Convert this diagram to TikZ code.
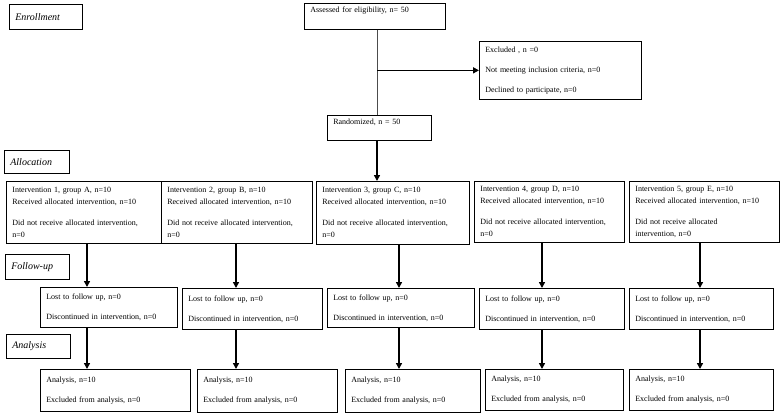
\documentclass[tikz,border=0pt]{standalone}
\usepackage{fontspec}
\setmainfont{Liberation Serif}
\usetikzlibrary{arrows.meta}

\begin{document}
\begin{tikzpicture}[x=1pt, y=-1pt,
		flowbox/.style={draw, line width=0.7pt, anchor=north west, align=left, inner xsep=6pt, inner ysep=2pt, font=\fontsize{8}{12}\selectfont},
		stagebox/.style={flowbox, font=\fontsize{10}{12}\selectfont\itshape},
		arr/.style={line width=1.5pt, -{Triangle[length=6pt, width=6pt]}}]
			\useasboundingbox (0, 0) rectangle (782, 415);

			% stage labels
			\draw (9, 4) 		node[stagebox, minimum width=73, minimum height=25, text width=61] 	(enroll) 	{Enrollment};
			\draw (4, 150) 		node[stagebox, minimum width=65, minimum height=23, text width=53] 	(alloc) 	{Allocation};
			\draw (5, 254) 		node[stagebox, minimum width=64, minimum height=25, text width=52] 	(follow) 	{Follow-up};
			\draw (6, 334) 		node[stagebox, minimum width=64, minimum height=24, text width=52] 	(analysis) 	{Analysis};

			% enrollment
			\draw (304, 3) 		node[flowbox, minimum width=141, minimum height=26, text width=129, text height=6pt, text depth=14pt] 	(assessed) 	{Assessed for eligibility, n= 50};
			\draw (479, 41) 	node[flowbox, minimum width=162, minimum height=58, text width=150] 	(excluded) 	{Excluded , n =0\\[8pt] Not meeting inclusion criteria, n=0\\[8pt] Declined to participate, n=0};
			\draw (327, 115) 	node[flowbox, minimum width=104, minimum height=25, text width=92, text height=6pt, text depth=12pt] 	(random) 	{Randomized, n = 50};

			% allocation
			\draw (6, 181) 		node[flowbox, minimum width=155, minimum height=62, text width=143] 	(int1) 	{Intervention 1, group A, n=10\\ Received allocated intervention, n=10\\[9pt] Did not receive allocated intervention,\\ n=0};
			\draw (161, 181) 	node[flowbox, minimum width=151, minimum height=62, text width=139] 	(int2) 	{Intervention 2, group B, n=10\\ Received allocated intervention, n=10\\[9pt] Did not receive allocated intervention,\\ n=0};
			\draw (316, 181) 	node[flowbox, minimum width=153, minimum height=63, text width=141] 	(int3) 	{Intervention 3, group C, n=10\\ Received allocated intervention, n=10\\[9pt] Did not receive allocated intervention,\\ n=0};
			\draw (474, 181) 	node[flowbox, minimum width=150, minimum height=61, text width=138] 	(int4) 	{Intervention 4, group D, n=10\\ Received allocated intervention, n=10\\[9pt] Did not receive allocated intervention,\\ n=0};
			\draw (629, 181) 	node[flowbox, minimum width=150, minimum height=61, text width=138] 	(int5) 	{Intervention 5, group E, n=10\\ Received allocated intervention, n=10\\[9pt] Did not receive allocated\\ intervention, n=0};

			% follow-up
			\draw (40, 287) 	node[flowbox, minimum width=137, minimum height=40, text width=125] 	(lost1) 	{Lost to follow up, n=0\\[8pt] Discontinued in intervention, n=0};
			\draw (182, 288) 	node[flowbox, minimum width=140, minimum height=41, text width=128] 	(lost2) 	{Lost to follow up, n=0\\[8pt] Discontinued in intervention, n=0};
			\draw (327, 288) 	node[flowbox, minimum width=147, minimum height=39, text width=135] 	(lost3) 	{Lost to follow up, n=0\\[8pt] Discontinued in intervention, n=0};
			\draw (479, 288) 	node[flowbox, minimum width=145, minimum height=41, text width=133] 	(lost4) 	{Lost to follow up, n=0\\[8pt] Discontinued in intervention, n=0};
			\draw (629, 288) 	node[flowbox, minimum width=144, minimum height=41, text width=132] 	(lost5) 	{Lost to follow up, n=0\\[8pt] Discontinued in intervention, n=0};

			% analysis
			\draw (40, 369) 	node[flowbox, minimum width=150, minimum height=42, text width=138] 	(an1) 	{Analysis, n=10\\[8pt] Excluded from analysis, n=0};
			\draw (197, 369) 	node[flowbox, minimum width=140, minimum height=43, text width=128] 	(an2) 	{Analysis, n=10\\[8pt] Excluded from analysis, n=0};
			\draw (345, 369) 	node[flowbox, minimum width=135, minimum height=43, text width=123] 	(an3) 	{Analysis, n=10\\[8pt] Excluded from analysis, n=0};
			\draw (485, 369) 	node[flowbox, minimum width=138, minimum height=41, text width=126] 	(an4) 	{Analysis, n=10\\[8pt] Excluded from analysis, n=0};
			\draw (629, 369) 	node[flowbox, minimum width=144, minimum height=41, text width=132] 	(an5) 	{Analysis, n=10\\[8pt] Excluded from analysis, n=0};

			% connectors
			\coordinate (colR) at (377, 0);
			\draw[line width=0.7pt, black!70] (assessed.south -| colR) -- (random.north -| colR);
			\draw[arr] (colR |- excluded.west) -- (excluded.west);
			\draw[arr] (random.south -| colR) -- (int3.north -| colR);
			\foreach \i/\cx in {1/87, 2/236, 3/399, 4/542, 5/700} {
				\coordinate (col\i) at (\cx, 0);
				\draw[arr] (int\i.south -| col\i) -- (lost\i.north -| col\i);
				\draw[arr] (lost\i.south -| col\i) -- (an\i.north -| col\i);
			}
		\end{tikzpicture}
\end{document}
